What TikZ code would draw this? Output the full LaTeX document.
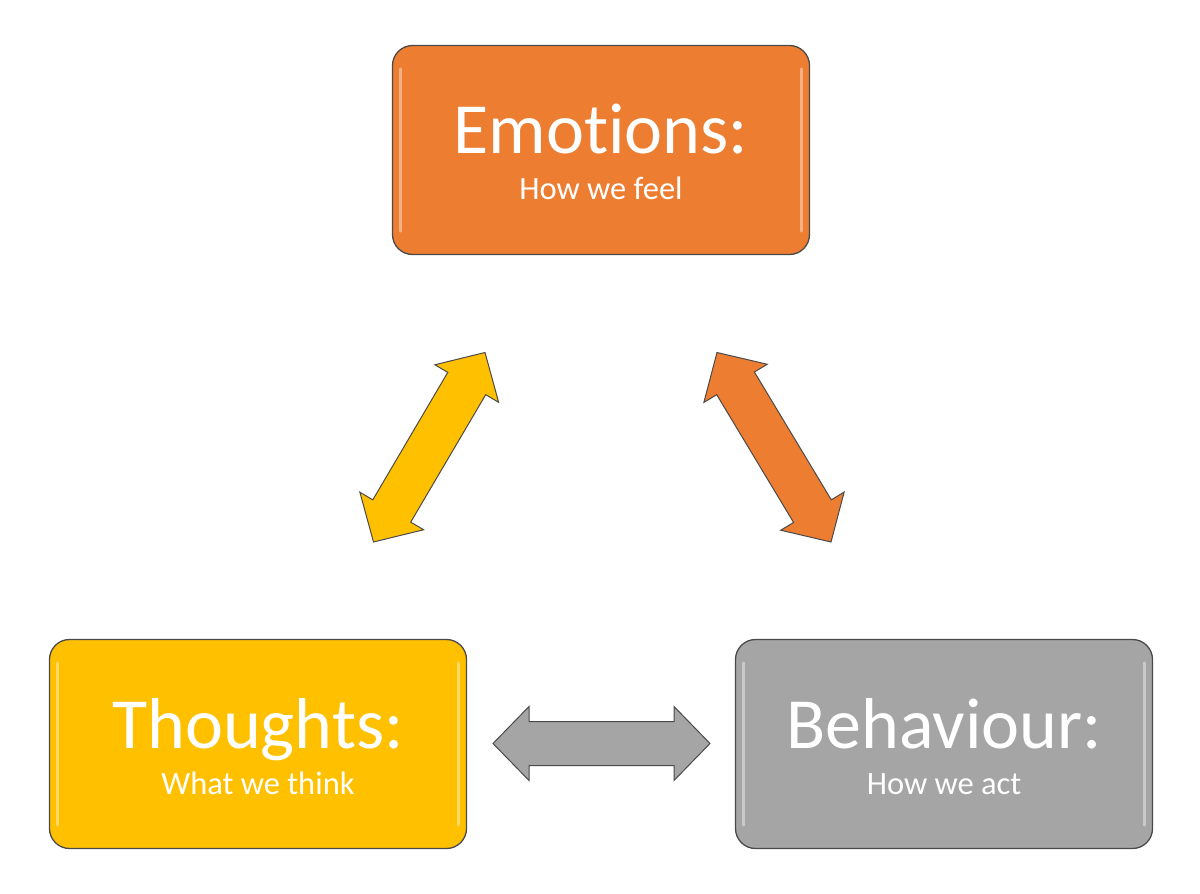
\documentclass[tikz,border=0pt]{standalone}
\usepackage{fontspec}
\setmainfont{Carlito}[RawFeature={-liga}]
\usetikzlibrary{calc}
\definecolor{emoC}{HTML}{ED7D31}
\definecolor{thoC}{HTML}{FFC000}
\definecolor{behC}{HTML}{A5A5A5}
\definecolor{edgeC}{HTML}{4A4A4A}
\tikzset{
  card/.style={draw=edgeC, line width=1.3pt, rounded corners=20pt, minimum width=417pt, minimum height=209pt, inner sep=0pt},
  bigtext/.style={text=white, font=\fontsize{72}{72}\selectfont, anchor=base, inner sep=0pt},
  smalltext/.style={text=white, font=\fontsize{32.5}{32.5}\selectfont, anchor=base, inner sep=0pt},
  gloss/.style={draw=white, line width=3pt, opacity=0.4, line cap=round},
  twoway/.style={draw=edgeC, line width=1pt, line join=miter},
}
\newcommand{\twowayarrow}[3]{%
  \draw[twoway,#3] (#1)
    -- ($(#1)!36pt!(#2)!37pt!90:(#2)$)
    -- ($(#1)!36pt!(#2)!22pt!90:(#2)$)
    -- ($(#2)!36pt!(#1)!22pt!-90:(#1)$)
    -- ($(#2)!36pt!(#1)!37pt!-90:(#1)$)
    -- (#2)
    -- ($(#2)!36pt!(#1)!37pt!90:(#1)$)
    -- ($(#2)!36pt!(#1)!22pt!90:(#1)$)
    -- ($(#1)!36pt!(#2)!22pt!-90:(#2)$)
    -- ($(#1)!36pt!(#2)!37pt!-90:(#2)$)
    -- cycle;}
\begin{document}
\begin{tikzpicture}[x={(1pt,0pt)}, y={(0pt,-1pt)}]
  \useasboundingbox (0,0) rectangle (1200,894);
  % boxes
  \node[card, fill=emoC] (emo) at (601,150) {};
  \node[card, fill=thoC] (tho) at (258,744) {};
  \node[card, fill=behC] (beh) at (944,744) {};
  \foreach \b in {emo,tho,beh}{
    \draw[gloss] ($(\b.north west)+(9,24)$) -- ($(\b.south west)+(9,-24)$);
    \draw[gloss] ($(\b.north east)+(-9,24)$) -- ($(\b.south east)+(-9,-24)$);
  }
  % texts
  \node[bigtext] (emoT) at ($(emo.center)+(0,3)$) {Emot\kern0pt ions:};
  \node[smalltext] (emoS) at ($(emo.center)+(0,49)$) {How we feel};
  \node[bigtext] (thoT) at ($(tho.center)+(0,4)$) {Thoughts:};
  \node[smalltext] (thoS) at ($(tho.center)+(0,50)$) {What we think};
  \node[bigtext] (behT) at ($(beh.center)+(0,4)$) {Behaviour:};
  \node[smalltext] (behS) at ($(beh.center)+(0,50)$) {How we act};
  % arrow end points
  \coordinate (yA) at (373.5,542);
  \coordinate (yB) at (485,352.5);
  \coordinate (oA) at (717,352.5);
  \coordinate (oB) at (831,542);
  \coordinate (gA) at (493,743.5);
  \coordinate (gB) at (710,743.5);
  \twowayarrow{yA}{yB}{fill=thoC}
  \twowayarrow{oA}{oB}{fill=emoC}
  \twowayarrow{gA}{gB}{fill=behC}
\end{tikzpicture}
\end{document}
